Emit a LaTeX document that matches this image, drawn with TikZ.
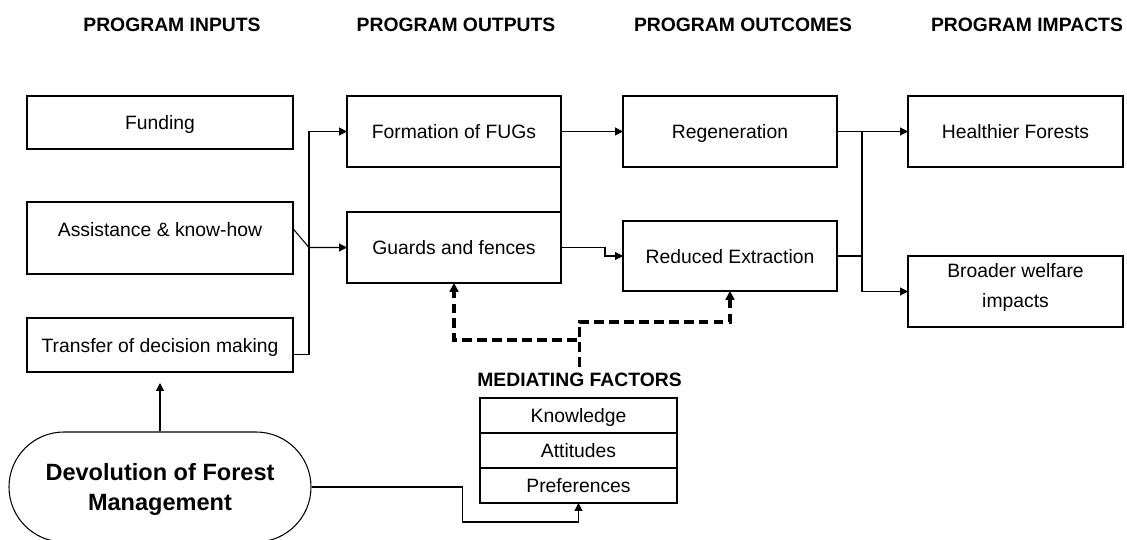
\documentclass[tikz,border=0pt]{standalone}
\usepackage{fontspec}
\setmainfont{Liberation Sans}
\usetikzlibrary{arrows.meta, positioning}

\begin{document}
\begin{tikzpicture}[
    node distance=0.9cm and 1.24cm,
    box/.style={rectangle, draw, line width=0.6pt, outer sep=0pt,
                minimum width=4.28cm, minimum height=1.42cm, text depth=0pt,
                align=center, font=\fontsize{11}{17}\selectfont},
    inbox/.style={box, minimum width=5.32cm},
    factor/.style={box, minimum width=3.94cm, minimum height=0.7cm},
    hdr/.style={font=\fontsize{11}{13}\selectfont\bfseries},
    oval/.style={rectangle, draw, line width=0.6pt, rounded corners=1.1cm,
                 minimum width=6.04cm, minimum height=2.2cm, text depth=0pt,
                 align=center, font=\fontsize{13.4}{17}\selectfont\bfseries},
    conn/.style={line width=0.6pt},
    arr/.style={-{Triangle[length=4.5pt, width=4.5pt]}, line width=0.6pt},
    darr/.style={-{Triangle[length=5pt, width=5pt]}, line width=1.8pt,
                 dash pattern=on 5.5pt off 3pt},
]
\useasboundingbox (0,0) rectangle (22.54,-10.8);

%% Column headings
\node[hdr] (hinputs)   at (3.44,-0.5)  {PROGRAM INPUTS};
\node[hdr] (houtputs)  at (9.12,-0.5)  {PROGRAM OUTPUTS};
\node[hdr] (houtcomes) at (14.86,-0.5) {PROGRAM OUTCOMES};
\node[hdr] (himpacts)  at (20.54,-0.5) {PROGRAM IMPACTS};

%% Inputs
\node[inbox, minimum height=1.06cm] (funding) at (3.2,-2.45) {Funding};
\node[inbox, minimum height=1.44cm, text depth=9.5pt, below=1.06cm of funding] (assist)
    {Assistance \& know-how};
\node[inbox, minimum height=1.08cm, below=0.88cm of assist] (transfer)
    {Transfer of decision making};

%% Outputs
\node[box] (formation) at (9.08,-2.63) {Formation of FUGs};
\node[box, below=of formation] (guards) {Guards and fences};

%% Outcomes
\node[box, right=of formation] (regen) {Regeneration};
\node[box, below=1.08cm of regen, minimum height=1.4cm] (reduced) {Reduced Extraction};

%% Impacts
\node[box, minimum width=4.3cm, right=1.42cm of regen] (healthy) {Healthier Forests};
\node[box, minimum width=4.3cm, text depth=7pt, below=1.78cm of healthy] (broader)
    {Broader welfare\\impacts};

%% Mediating factors
\node[hdr] (medtitle) at (11.59,-7.6) {MEDIATING FACTORS};
\node[factor] (knowledge) at (11.57,-8.31) {Knowledge};
\node[factor, below=0pt of knowledge] (attitudes) {Attitudes};
\node[factor, below=0pt of attitudes] (prefs) {Preferences};

%% Devolution
\node[oval] (devol) at (3.2,-9.74) {Devolution of Forest\\Management};

%% Inputs -> outputs
\coordinate (fork) at (6.18,-4.95);
\draw[conn] (assist.4) -- (fork);
\draw[arr] (fork) -- (guards.west);
\draw[arr] (transfer.-4) -| (fork) |- (formation.west);

%% Outputs -> outcomes
\draw[arr] (formation) -- (regen);
\draw[conn] (formation.south east) -- (guards.north east);
\draw[arr] (guards.east) -- ++(0.88,0) |- (reduced.west);

%% Outcomes -> impacts
\draw[arr] (regen) -- (healthy);
\draw[arr] (regen.east) -- ++(0.5,0) |- (broader.west);
\draw[conn] (reduced.east) -- ++(0.5,0);

%% Mediating paths
\draw[darr] (medtitle.north) -- ++(0,0.54) -| (guards.south);
\draw[darr] (medtitle.north) -- ++(0,0.9) -| (reduced.south);

%% Devolution paths
\draw[arr, shorten >=0.22cm] (devol) -- (transfer);
\draw[arr] (devol.east) -- ++(3.02,0) -- ++(0,-0.7) -| (prefs.south);

\end{tikzpicture}
\end{document}
